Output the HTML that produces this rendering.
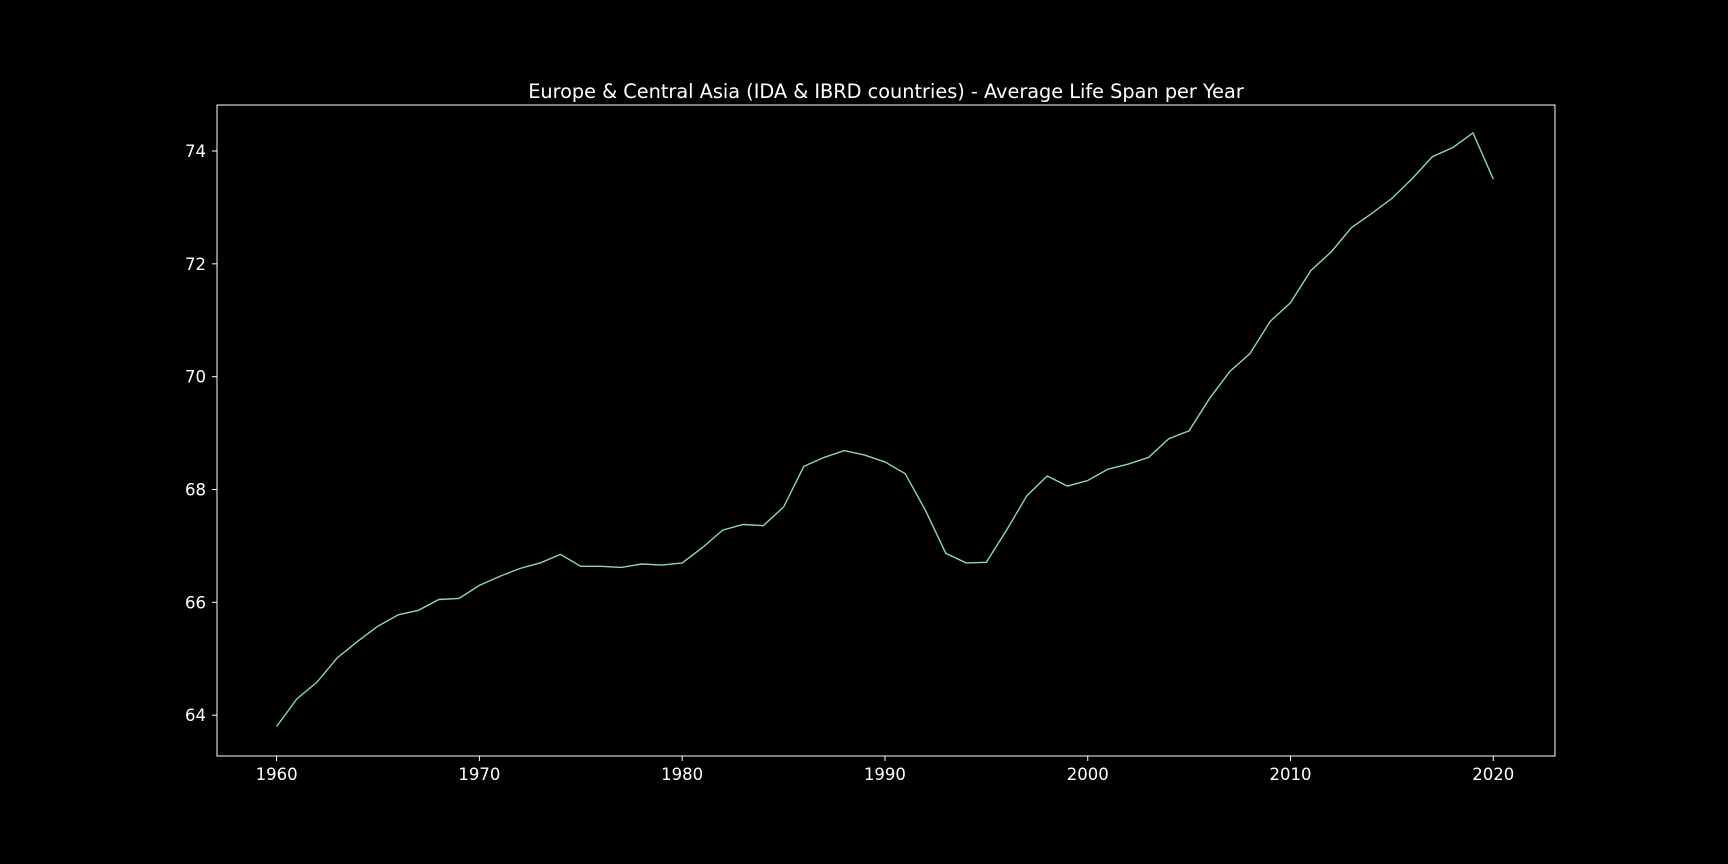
<!DOCTYPE html>
<html><head><meta charset="utf-8"><style>
html,body{margin:0;padding:0;background:#000;}
svg{display:block;}
text{font-family:"DejaVu Sans","Liberation Sans",sans-serif;fill:#fff;}
</style></head><body>
<svg id="chart" width="1728" height="864" viewBox="0 0 1728 864">
<rect width="1728" height="864" fill="#000"/>
<text x="886" y="98" font-size="19.3" text-anchor="middle">Europe &amp; Central Asia (IDA &amp; IBRD countries) - Average Life Span per Year</text>
<g id="xticks"></g>
<g id="yticks"></g>
<path id="line" fill="none" stroke="#8dd3c7" stroke-width="1.4"/>
<rect x="217" y="105" width="1338" height="651" fill="none" stroke="#fff" stroke-width="1"/>
</svg>
<script>
const years=[];for(let y=1960;y<=2020;y++)years.push(y);
const lifeSpan=[63.8,64.29,64.59,65.02,65.31,65.58,65.78,65.86,66.05,66.07,66.30,66.46,66.60,66.70,66.85,66.64,66.64,66.62,66.68,66.66,66.70,66.97,67.28,67.38,67.36,67.69,68.41,68.57,68.69,68.61,68.49,68.28,67.63,66.87,66.70,66.71,67.28,67.89,68.24,68.06,68.16,68.36,68.45,68.57,68.90,69.04,69.61,70.09,70.41,70.98,71.31,71.88,72.21,72.64,72.89,73.16,73.51,73.90,74.06,74.32,73.50];
const xTicks=[1960,1970,1980,1990,2000,2010,2020];
const yTicks=[64,66,68,70,72,74];
const NS="http://www.w3.org/2000/svg";
function xs(v){return 276.6+(v-1960)*(1493.3-276.6)/60;}
function ys(v){return 715.2-(v-64)*(715.2-151.0)/10;}
document.getElementById('line').setAttribute('d',years.map((y,i)=>(i?'L':'M')+xs(y).toFixed(1)+','+ys(lifeSpan[i]).toFixed(1)).join(''));
const gx=document.getElementById('xticks');
xTicks.forEach(t=>{
 const l=document.createElementNS(NS,'line');
 l.setAttribute('x1',xs(t));l.setAttribute('x2',xs(t));l.setAttribute('y1',756);l.setAttribute('y2',761);l.setAttribute('stroke','#fff');
 
 
 gx.appendChild(l);
 const tx=document.createElementNS(NS,'text');
 tx.setAttribute('x',xs(t));tx.setAttribute('y',780);tx.setAttribute('font-size','16.5');tx.setAttribute('text-anchor','middle');
 tx.textContent=t;
 
 
 gx.appendChild(tx);
});
const gy=document.getElementById('yticks');
yTicks.forEach(t=>{
 const l=document.createElementNS(NS,'line');
 l.setAttribute('x1',212);l.setAttribute('x2',217);l.setAttribute('y1',ys(t));l.setAttribute('y2',ys(t));l.setAttribute('stroke','#fff');
 
 
 gy.appendChild(l);
 const tx=document.createElementNS(NS,'text');
 tx.setAttribute('x',206);tx.setAttribute('y',ys(t)+6);tx.setAttribute('font-size','16.5');tx.setAttribute('text-anchor','end');
 tx.textContent=t;
 
 
 gy.appendChild(tx);
});
</script>
</body></html>
